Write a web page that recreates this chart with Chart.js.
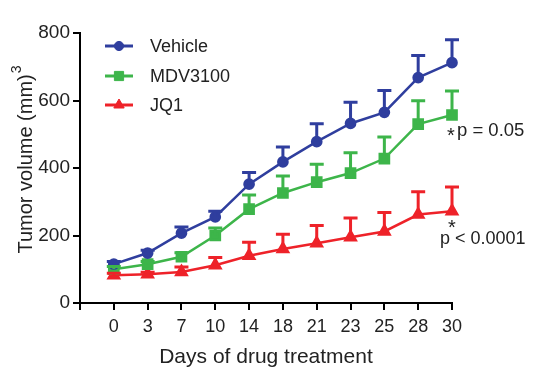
<!DOCTYPE html>
<html>
<head>
<meta charset="utf-8">
<script src="https://cdn.jsdelivr.net/npm/chart.js@4.4.1/dist/chart.umd.min.js"></script>
<style>
html,body{margin:0;padding:0;background:#fff;}
#wrap{width:545px;height:382px;position:relative;}
</style>
</head>
<body>
<div id="wrap"><canvas id="c" width="545" height="382"></canvas></div>
<script>
const days = ['0','3','7','10','14','18','21','23','25','28','30'];
const vehicle    = [115, 148, 207, 255, 352, 418, 478, 532, 565, 668, 712];
const vehicleErr = [8, 8, 18, 17, 35, 44, 53, 63, 65, 65, 68];
const mdv        = [100, 115, 137, 200, 278, 326, 358, 385, 428, 530, 557];
const mdvErr     = [8, 8, 12, 22, 42, 50, 53, 60, 64, 69, 71];
const jq1        = [82, 85, 92, 112, 140, 160, 177, 195, 212, 262, 272];
const jq1Err     = [6, 6, 15, 23, 40, 44, 53, 57, 56, 68, 72];
const yTicks = [0, 200, 400, 600, 800];

const BLUE = '#2f3e9e', GREEN = '#3db54a', RED = '#ee2229';
const TXT = '#222222';
const FONT = '"Liberation Sans", Arial, sans-serif';

function pts(arr){ return arr.map((v,i)=>({x:i,y:v})); }

const series = [
  {label:'Vehicle', data:pts(vehicle), err:vehicleErr, color:BLUE, style:'circle', r:4.6},
  {label:'MDV3100', data:pts(mdv), err:mdvErr, color:GREEN, style:'rect', r:6.5},
  {label:'JQ1', data:pts(jq1), err:jq1Err, color:RED, style:'triangle', r:6}
];

const errorBars = {
  id:'errorBars',
  afterDatasetsDraw(chart){
    const ctx = chart.ctx, xs = chart.scales.x, ys = chart.scales.y;
    ctx.save();
    chart.data.datasets.forEach((ds)=>{
      ctx.strokeStyle = ds.borderColor;
      ctx.lineWidth = 3;
      ds.data.forEach((p,i)=>{
        const x = xs.getPixelForValue(p.x);
        const y0 = ys.getPixelForValue(p.y);
        const y1 = ys.getPixelForValue(p.y + ds.err[i]);
        ctx.beginPath();
        ctx.moveTo(x, y0); ctx.lineTo(x, y1);
        ctx.moveTo(x-7, y1); ctx.lineTo(x+7, y1);
        ctx.stroke();
      });
    });
    ctx.restore();
  }
};

const extras = {
  id:'extras',
  afterDraw(chart){
    const ctx = chart.ctx, xs = chart.scales.x;
    ctx.save();
    // legend
    const rows = [46, 76, 105];
    chart.data.datasets.forEach((ds,i)=>{
      const y = rows[i];
      ctx.strokeStyle = ds.borderColor; ctx.lineWidth = 3;
      ctx.beginPath(); ctx.moveTo(105,y); ctx.lineTo(133,y); ctx.stroke();
      ctx.fillStyle = ds.borderColor;
      ctx.lineWidth = 1;
      Chart.helpers.drawPoint(ctx, {pointStyle:ds.pointStyle, radius:ds.pointRadius, borderWidth:1}, 119, y);
      ctx.fillStyle = TXT;
      ctx.font = '18px ' + FONT;
      ctx.textBaseline = 'middle'; ctx.textAlign = 'left';
      ctx.fillText(ds.label, 150, y+1);
    });
    // annotations
    ctx.fillStyle = TXT;
    ctx.textBaseline = 'middle';
    ctx.textAlign = 'left';
    const xr = xs.getPixelForValue(10);
    ctx.font = '20px ' + FONT;
    ctx.fillText('*', xr - 5, 136);
    ctx.font = '18.5px ' + FONT;
    ctx.fillText('p = 0.05', xr + 5, 131);
    ctx.font = '20px ' + FONT;
    ctx.fillText('*', xr - 4, 228);
    ctx.font = '18px ' + FONT;
    ctx.fillText('p < 0.0001', xr - 12, 239);
    // y-axis title with superscript
    ctx.save();
    ctx.translate(26, 160);
    ctx.rotate(-Math.PI/2);
    ctx.font = '20px ' + FONT;
    const main = 'Tumor volume (mm)';
    const w = ctx.measureText(main).width;
    ctx.font = '14px ' + FONT;
    const ws = ctx.measureText('3').width;
    const start = -(w + ws)/2;
    ctx.textAlign = 'left'; ctx.textBaseline = 'middle';
    ctx.font = '20px ' + FONT;
    ctx.fillText(main, start, 0);
    ctx.font = '14px ' + FONT;
    ctx.fillText('3', start + w + 1, -9);
    ctx.restore();
    ctx.restore();
  }
};

new Chart(document.getElementById('c'), {
  type:'line',
  data:{
    datasets: series.map(s=>({
      label:s.label, data:s.data, err:s.err,
      borderColor:s.color, backgroundColor:s.color,
      pointBackgroundColor:s.color, pointBorderColor:s.color,
      pointStyle:s.style, pointRadius:s.r, pointHoverRadius:s.r,
      borderWidth:2.5, tension:0, fill:false, clip:false
    }))
  },
  options:{
    responsive:false, animation:false, devicePixelRatio:1,
    layout:{padding:{left:0, right:93, top:33, bottom:9}},
    plugins:{legend:{display:false}, tooltip:{enabled:false}},
    scales:{
      x:{
        type:'linear', min:-1, max:10,
        afterFit(s){ s.height = 70; },
        afterBuildTicks(s){ s.ticks = days.map((d,i)=>({value:i})).concat([{value:-1}]).sort((a,b)=>a.value-b.value); },
        ticks:{ stepSize:1, autoSkip:false, maxRotation:0, color:TXT, padding:6,
          font:{family:FONT, size:18},
          callback:(v)=> (v>=0 && v<days.length) ? days[v] : '' },
        grid:{ drawOnChartArea:false, drawTicks:true, tickLength:7, color:'#000', lineWidth:2 },
        border:{ display:true, color:'#000', width:2 },
        title:{ display:true, text:'Days of drug treatment', color:TXT, font:{family:FONT, size:21}, padding:{top:2, bottom:3} }
      },
      y:{
        min:0, max:800,
        afterFit(s){ s.width = 80; },
        afterBuildTicks(s){ s.ticks = yTicks.map(v=>({value:v})); },
        ticks:{ color:TXT, padding:3, font:{family:FONT, size:19} },
        grid:{ drawOnChartArea:false, drawTicks:true, tickLength:7, color:'#000', lineWidth:2 },
        border:{ display:true, color:'#000', width:2 }
      }
    }
  },
  plugins:[errorBars, extras]
});
</script>
